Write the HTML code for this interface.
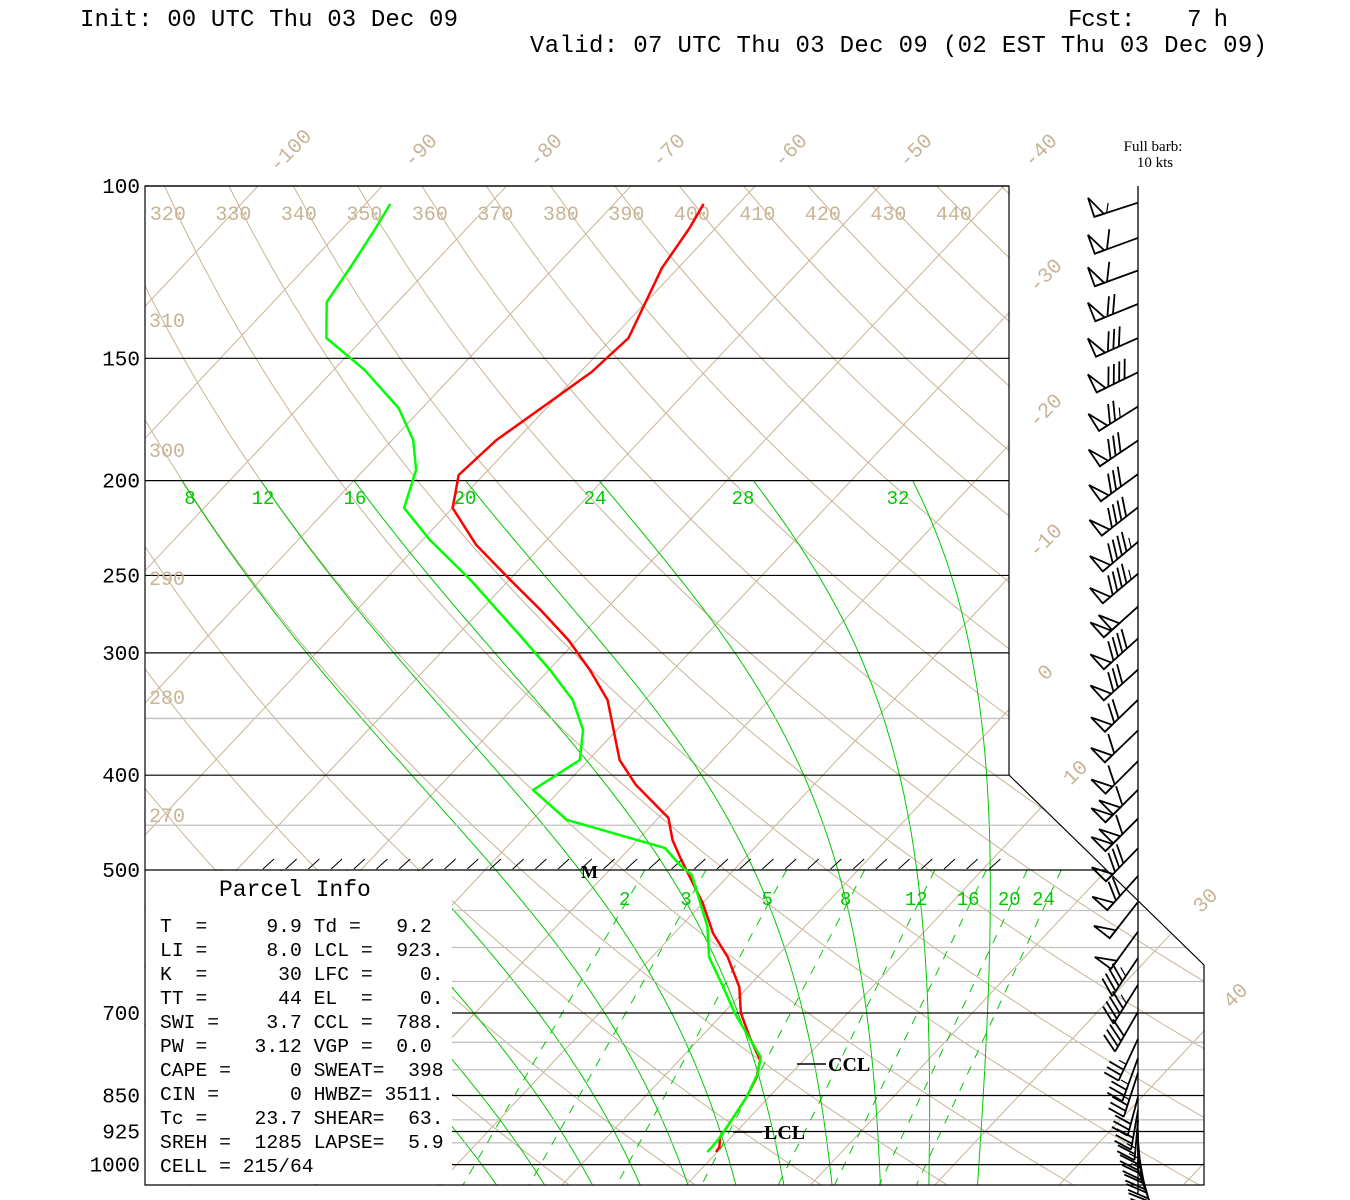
<!DOCTYPE html>
<html><head><meta charset="utf-8"><style>
html,body{margin:0;padding:0;background:#fff;}
svg{display:block;}
</style></head><body>
<svg id="chart" width="1350" height="1200" viewBox="0 0 1350 1200" xmlns="http://www.w3.org/2000/svg" style="position:absolute;left:0;top:0">
<defs>
<clipPath id="plotclip"><polygon points="145,186 1009,186 1009,775 1204,965 1204,1185 145,1185"/></clipPath>
<clipPath id="lowclip"><polygon points="452,870 1106,870 1204,965 1204,1185 452,1185"/></clipPath>
</defs>
<g font-family="Liberation Mono, monospace" font-size="24" fill="#000">
<text x="80" y="26" textLength="378" xml:space="preserve">Init: 00 UTC Thu 03 Dec 09</text>
<text x="1068" y="26" textLength="160" xml:space="preserve">Fcst:    7 h</text>
<text x="530" y="52" textLength="737" xml:space="preserve">Valid: 07 UTC Thu 03 Dec 09 (02 EST Thu 03 Dec 09)</text>
</g>
<g id="bg"></g>
<g id="labels"></g>
<g id="profiles"></g>
<g id="barbs"></g>
<g font-family="Liberation Mono, monospace" fill="#000">
<text x="219" y="896" font-size="23" xml:space="preserve">Parcel Info</text>
<g font-size="19.7">
<text x="160" y="932" xml:space="preserve">T  =     9.9 Td =   9.2</text>
<text x="160" y="956" xml:space="preserve">LI =     8.0 LCL =  923.</text>
<text x="160" y="980" xml:space="preserve">K  =      30 LFC =    0.</text>
<text x="160" y="1004" xml:space="preserve">TT =      44 EL  =    0.</text>
<text x="160" y="1028" xml:space="preserve">SWI =    3.7 CCL =  788.</text>
<text x="160" y="1052" xml:space="preserve">PW =    3.12 VGP =  0.0</text>
<text x="160" y="1076" xml:space="preserve">CAPE =     0 SWEAT=  398</text>
<text x="160" y="1100" xml:space="preserve">CIN =      0 HWBZ= 3511.</text>
<text x="160" y="1124" xml:space="preserve">Tc =    23.7 SHEAR=  63.</text>
<text x="160" y="1148" xml:space="preserve">SREH =  1285 LAPSE=  5.9</text>
<text x="160" y="1172" xml:space="preserve">CELL = 215/64</text>
</g>
</g>
<g font-family="Liberation Serif, serif" font-weight="bold" fill="#000">
<line x1="797" y1="1064" x2="826" y2="1064" stroke="#000" stroke-width="1.5"/>
<text x="828" y="1071" font-size="20">CCL</text>
<line x1="733" y1="1132" x2="762" y2="1132" stroke="#000" stroke-width="1.5"/>
<text x="764" y="1139" font-size="20">LCL</text>
<text x="581" y="878" font-size="18">M</text>
</g>
<g font-family="Liberation Serif, serif" font-size="15" fill="#000">
<text x="1153" y="151" text-anchor="middle">Full barb:</text>
<text x="1155" y="167" text-anchor="middle">10 kts</text>
</g>
</svg>
<script>
// ---- data ----
const tempP = [104.3,110.4,121.3,143.0,154.9,167.4,181.8,197.4,213.3,232.7,252.7,271.2,291.0,312.3,335.2,386.0,409.3,442.3,465.9,486.1,540.4,580.0,613.7,658.5,700.2,740.6,782.0,813.8,853.0,915.3,937.2,959.5,970.9];
const tempC = [-62.8,-62.1,-61.3,-58.7,-59.1,-60.3,-61.6,-62.0,-60.0,-55.3,-49.9,-45.2,-40.7,-36.7,-33.0,-27.5,-24.3,-19.2,-17.2,-15.2,-10.0,-6.9,-3.9,-0.7,1.4,3.9,6.5,7.5,8.2,8.9,9.1,9.8,9.9];
const dewP = [104.3,110.9,121.3,131.4,143.0,154.2,168.6,181.8,195.1,213.3,230.0,252.7,287.6,312.3,335.2,359.7,386.0,414.2,444.4,474.8,494.2,505.9,571.8,613.7,658.5,700.2,776.3,806.1,853.0,906.7,937.2,959.5,970.9];
const dewC = [-88.0,-87.3,-86.4,-85.7,-83.0,-77.5,-71.9,-68.3,-65.8,-63.9,-59.4,-53.1,-45.0,-39.9,-35.8,-32.7,-30.7,-32.2,-27.2,-17.2,-14.7,-13.0,-7.8,-5.4,-2.0,0.9,6.3,7.3,8.2,8.8,9.1,9.2,9.2];
const windP = [104,113,122,132,143,155,168,182,197,213,231,249,269,290,312,335,360,387,414,443,475,507,539,578,615,655,698,744,778,806,853,880,901,922,944,966,989,1012];
const windDir = [252,250,250,248,246,244,238,236,234,232,230,230,228,228,228,226,226,225,225,225,224,222,218,216,214,212,210,205,200,198,195,190,185,180,175,170,165,160];
const windSpd = [55,60,60,70,80,90,75,80,80,90,95,95,100,90,80,70,60,60,110,110,80,70,50,50,45,45,40,35,35,35,30,30,25,25,25,20,20,20];
const majorP = [100,150,200,250,300,400,500,700,850,925,1000];
const minorP = [350,450,550,600,650,750,800,900,950];
const isoT = [-130,-120,-110,-100,-90,-80,-70,-60,-50,-40,-30,-20,-10,0,10,20,30,40,50];
const thetaK = [250,260,270,280,290,300,310,320,330,340,350,360,370,380,390,400,410,420,430,440,450,460,470];
const thetaW = [-8,-4,0,4,8,12,16,20,24,28,32];
const thetaWLabels = [8,12,16,20,24,28,32];
const thetaWLabelX = [190,263,355,465,595,743,898];
const mixW = [2,3,5,8,12,16,20,24];

// ---- axes ----
const NS='http://www.w3.org/2000/svg';
function yP(p){return 186+425*Math.log(p/100);}
function xT(t,p){return 258+12.43*(t+100)-0.94*(yP(p)-186);}
function xRight(y){if(y<=775)return 1009; if(y>=965)return 1204; return 1009+(y-775)*195/190;}
function el(tag,attrs,parent){const e=document.createElementNS(NS,tag);for(const k in attrs)e.setAttribute(k,attrs[k]);parent.appendChild(e);return e;}
const bg=document.getElementById('bg'), lab=document.getElementById('labels'), prof=document.getElementById('profiles'), bb=document.getElementById('barbs');
const TAN='#c8b496', GRN='#00c800';
const clipG=el('g',{'clip-path':'url(#plotclip)'},bg);


function poly(pts,attrs,parent){return el('polyline',Object.assign({points:pts.map(q=>q[0].toFixed(1)+','+q[1].toFixed(1)).join(' '),fill:'none'},attrs),parent);}
isoT.forEach(t=>{
  const l=el('line',{x1:xT(t,1050),y1:yP(1050),x2:xT(t,100),y2:yP(100),stroke:TAN,'stroke-width':1},clipG);
  
  
});
thetaK.forEach(th=>{
  const pts=[];for(let p=100;p<=1050;p+=10){pts.push([xT(th*Math.pow(p/1000,0.286)-273.15,p),yP(p)]);}
  const l=poly(pts,{stroke:TAN,'stroke-width':1},clipG);
  
  
});
function es(tc){return 6.112*Math.exp(17.67*tc/(tc+243.5));}
function dTdp(Tk,p){const e=es(Tk-273.15);const rs=0.622*e/(p-e);const Rd=287.04,Cp=1005.7,Lv=2.501e6;return (Rd*Tk+Lv*rs)/(p*(Cp+Lv*Lv*rs*0.622/(Rd*Tk*Tk)));}
thetaW.forEach(tw=>{
  const top=tw<8?500:200;
  const up=[];let T=tw+273.15;let p=1000;up.push([p,T]);
  while(p>top){const dp=-2;T+=dTdp(T,p)*dp;p+=dp;up.push([p,T]);}
  const dn=[];T=tw+273.15;p=1000;
  while(p<1050){const dp=2;T+=dTdp(T,p)*dp;p+=dp;dn.push([p,T]);}
  const all=up.reverse().concat(dn).map(q=>[xT(q[1]-273.15,q[0]),yP(q[0])]);
  const l=poly(all,{stroke:GRN,'stroke-width':1},clipG);
  
  
});
minorP.forEach(p=>{const y=yP(p);const x1=p>500?452:145;
  const l=el('line',{x1:x1,y1:y,x2:xRight(y),y2:y,stroke:'#c0c0c0','stroke-width':1.3},bg);
  
  
});
const lowG=el('g',{'clip-path':'url(#lowclip)'},bg);


function tdW(w,p){const e=w*p/(622+w);const a=Math.log(e/6.112);return 243.5*a/(17.67-a);}
mixW.forEach(w=>{
  const l=el('line',{x1:xT(tdW(w,500),500),y1:yP(500),x2:xT(tdW(w,1050),1050),y2:yP(1050),stroke:GRN,'stroke-width':1,'stroke-dasharray':'9,9'},lowG);
  
  
  const t=el('text',{x:xT(tdW(w,527),527)-7,y:905,'text-anchor':'middle',fill:GRN,'font-size':19,'font-family':'"Liberation Mono",monospace'},lab);
  t.textContent=w;
  
  
});
majorP.forEach(p=>{const y=yP(p);const x1=(p>500)?452:145;
  const l=el('line',{x1:x1,y1:y,x2:xRight(y),y2:y,stroke:'#000','stroke-width':1.2},bg);
  
  
  const t=el('text',{x:140,y:y+7,'text-anchor':'end','font-size':21,'font-family':'"Liberation Mono",monospace',fill:'#000'},lab);
  t.textContent=p;
  
  
});
const fr=el('polygon',{points:'145,186 1009,186 1009,775 1204,965 1204,1185 145,1185',fill:'none',stroke:'#000','stroke-width':1.2},bg);


for(let x=263;x<1000;x+=22.7){const h=el('line',{x1:x,y1:869,x2:x+11,y2:859,stroke:'#000','stroke-width':1},bg);
  
  }
const pb=el('rect',{x:146,y:871,width:306,height:313,fill:'#fff'},bg);


const isoLab=[['-100',290,150],['-90',420,150],['-80',545,150],['-70',668,150],['-60',790,150],['-50',915,150],['-40',1040,150],['-30',1045,275],['-20',1045,410],['-10',1045,540],['0',1045,672],['10',1075,772],['30',1205,900],['40',1235,995]];
isoLab.forEach(a=>{const t=el('text',{x:a[1],y:a[2]+7,'text-anchor':'middle',fill:TAN,'font-size':21,'font-family':'"Liberation Mono",monospace',transform:'rotate(-45 '+a[1]+' '+a[2]+')'},lab);
  t.textContent=a[0];
  
  });
[320,330,340,350,360,370,380,390,400,410,420,430,440].forEach(th=>{
  const p=106.5;const x=xT(th*Math.pow(p/1000,0.286)-273.15,p)-9;
  const t=el('text',{x:x,y:220,'text-anchor':'middle',fill:TAN,'font-size':20,'font-family':'"Liberation Mono",monospace'},lab);
  t.textContent=th;
  
  });
[['310',320],['300',450],['290',578],['280',697],['270',815]].forEach(a=>{
  const t=el('text',{x:149,y:a[1]+7,fill:TAN,'font-size':20,'font-family':'"Liberation Mono",monospace'},lab);
  t.textContent=a[0];
  
  });
thetaWLabels.forEach((tw,i)=>{
  const t=el('text',{x:thetaWLabelX[i],y:504,'text-anchor':'middle',fill:GRN,'font-size':19,'font-family':'"Liberation Mono",monospace'},lab);
  t.textContent=tw;
  
  });
const red=poly(tempP.map((p,i)=>[xT(tempC[i],p),yP(p)]),{stroke:'#ff0000','stroke-width':2.5,'stroke-linejoin':'round'},prof);


const grn=poly(dewP.map((p,i)=>[xT(dewC[i],p),yP(p)]),{stroke:'#00ff00','stroke-width':2.5,'stroke-linejoin':'round'},prof);


const st=el('line',{x1:1138,y1:186,x2:1138,y2:1195,stroke:'#000','stroke-width':1.3},bb);


windP.forEach((p,i)=>{
  const g=el('g',{},bb);
  
  
  const d=windDir[i]*Math.PI/180;const L=p>850?40:46;
  const ux=Math.sin(d),uy=-Math.cos(d);
  const bx=1138,by=yP(p);const tx=bx+ux*L,ty=by+uy*L;
  el('line',{x1:bx,y1:by,x2:tx,y2:ty,stroke:'#000','stroke-width':1.8},g);
  let px=-uy,py=ux; if(py>0){px=-px;py=-py;}
  if(Math.abs(uy)>0.9){px=-1;py=0;}
  const vx=px*0.9-ux*0.45, vy=py*0.9-uy*0.45;
  let s=windSpd[i];let pos=0;const H=20;
  while(s>=50){const ax=tx-ux*pos,ay=ty-uy*pos,cx=tx-ux*(pos+10),cy=ty-uy*(pos+10);
    el('polygon',{points:`${ax},${ay} ${ax+px*H},${ay+py*H} ${cx},${cy}`,fill:'none',stroke:'#000','stroke-width':1.8},g);pos+=11;s-=50;}
  if(pos>0)pos+=2;
  while(s>=10){const ax=tx-ux*pos,ay=ty-uy*pos;el('line',{x1:ax,y1:ay,x2:ax+vx*H,y2:ay+vy*H,stroke:'#000','stroke-width':1.8},g);pos+=6;s-=10;}
  if(s>=5){const ax=tx-ux*pos,ay=ty-uy*pos;el('line',{x1:ax,y1:ay,x2:ax+vx*10,y2:ay+vy*10,stroke:'#000','stroke-width':1.2},g);}
});
</script>
</body></html>
